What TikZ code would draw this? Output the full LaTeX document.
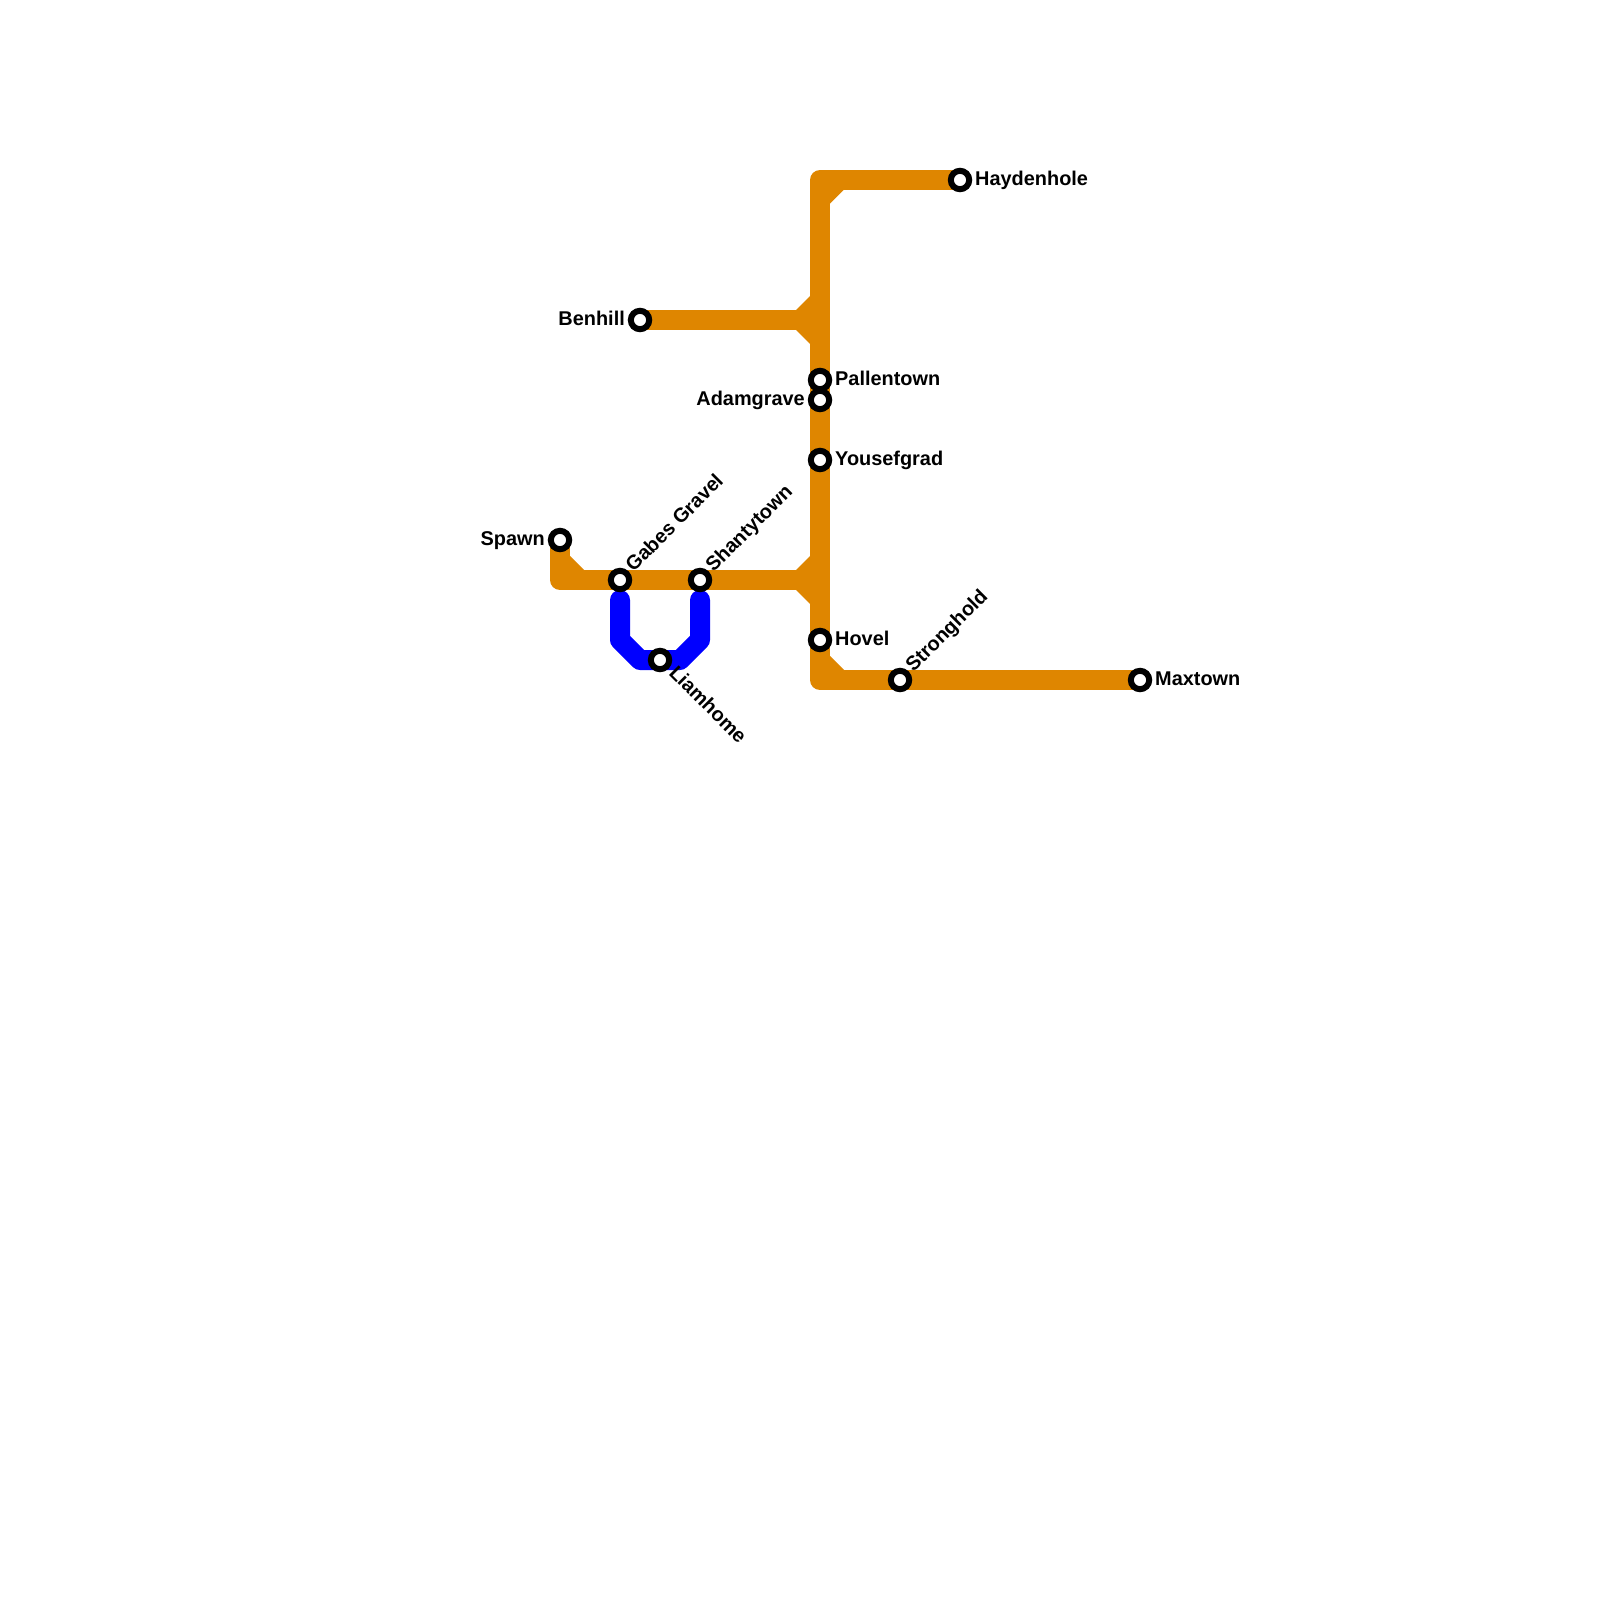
\documentclass[tikz,border=0pt]{standalone}
\usepackage{fontspec}
\setmainfont{Liberation Sans}
\tikzset{
  x=1pt,y=-1pt,
  orangeline/.style={draw=lineorange,line width=20pt,line join=round,line cap=butt},
  blueline/.style={draw=lineblue,line width=20pt,line join=round,line cap=round},
  chamfer/.style={fill=lineorange,draw=none},
  station/.style={circle,draw=black,fill=white,line width=6pt,minimum size=18.4pt,inner sep=0pt},
  stationlabel/.style={inner sep=0pt,font=\fontsize{19.9}{20}\selectfont\bfseries,text=black},
}
\definecolor{lineorange}{HTML}{DF8600}
\definecolor{lineblue}{HTML}{0000FF}
\begin{document}
\begin{tikzpicture}
\useasboundingbox[fill=white] (0,0) rectangle (1600,1600);
\coordinate (cHayden) at (960,180);
\coordinate (cBen) at (640,320);
\coordinate (cPallen) at (820,380);
\coordinate (cAdam) at (820,400);
\coordinate (cYousef) at (820,460);
\coordinate (cSpawn) at (560,540);
\coordinate (cGabes) at (620,580);
\coordinate (cShanty) at (700,580);
\coordinate (cHovel) at (820,640);
\coordinate (cLiam) at (660,660);
\coordinate (cStrong) at (900,680);
\coordinate (cMax) at (1140,680);
\coordinate (top) at (820,180);
\coordinate (bottom) at (820,680);
\coordinate (tUp) at (820,320);
\coordinate (tDown) at (820,580);
\coordinate (spawnBend) at (560,580);
\coordinate (blueA) at (620,600);
\coordinate (blueB) at (620,640);
\coordinate (blueC) at (640,660);
\coordinate (blueD) at (680,660);
\coordinate (blueE) at (700,640);
\coordinate (blueF) at (700,600);
% blue line
\draw[blueline] (blueA) -- (blueB) -- (blueC) -- (blueD) -- (blueE) -- (blueF);
% orange lines
\draw[orangeline] (cHayden) -- (top) -- (bottom) -- (cMax);
\draw[orangeline] (cBen) -- (tUp);
\draw[orangeline] (cSpawn) -- (spawnBend) -- (tDown);
% inner chamfers
\fill[chamfer] (830,190) -- (843.5,190) -- (830,203.5) -- cycle;
\fill[chamfer] (796,310) -- (810,296) -- (810,310) -- cycle;
\fill[chamfer] (796,330) -- (810,344) -- (810,330) -- cycle;
\fill[chamfer] (796,570) -- (810,556) -- (810,570) -- cycle;
\fill[chamfer] (796,590) -- (810,604) -- (810,590) -- cycle;
\fill[chamfer] (830,656) -- (844,670) -- (830,670) -- cycle;
\fill[chamfer] (570,556) -- (584,570) -- (570,570) -- cycle;
% stations
\node[station] (Hayden) at (cHayden) {};
\node[station] (Ben) at (cBen) {};
\node[station] (Pallen) at (cPallen) {};
\node[station] (Adam) at (cAdam) {};
\node[station] (Yousef) at (cYousef) {};
\node[station] (Spawn) at (cSpawn) {};
\node[station] (Gabes) at (cGabes) {};
\node[station] (Shanty) at (cShanty) {};
\node[station] (Hovel) at (cHovel) {};
\node[station] (Liam) at (cLiam) {};
\node[station] (Strong) at (cStrong) {};
\node[station] (Max) at (cMax) {};
% labels
\node[stationlabel,anchor=base west] (lHayden) at (975,185.500) {Haydenhole};
\node[stationlabel,anchor=base east] (lBen) at (625,325.500) {Benhill};
\node[stationlabel,anchor=base west] (lPallen) at (835,385.500) {Pallentown};
\node[stationlabel,anchor=base east] (lAdam) at (805,405) {Adamgrave};
\node[stationlabel,anchor=base west] (lYousef) at (835,465.500) {Yousefgrad};
\node[stationlabel,anchor=base east] (lSpawn) at (545,545.500) {Spawn};
\node[stationlabel,anchor=base west,rotate=45] (lGabes) at (633.500,573) {Gabes Gravel};
\node[stationlabel,anchor=base west,rotate=45] (lShanty) at (713.500,573) {Shantytown};
\node[stationlabel,anchor=base west] (lHovel) at (835,645.500) {Hovel};
\node[stationlabel,anchor=base west,rotate=-45] (lLiam) at (668,674) {Liamhome};
\node[stationlabel,anchor=base west,rotate=45] (lStrong) at (913.500,673) {Stronghold};
\node[stationlabel,anchor=base west] (lMax) at (1155,685.500) {Maxtown};
\end{tikzpicture}
\end{document}
